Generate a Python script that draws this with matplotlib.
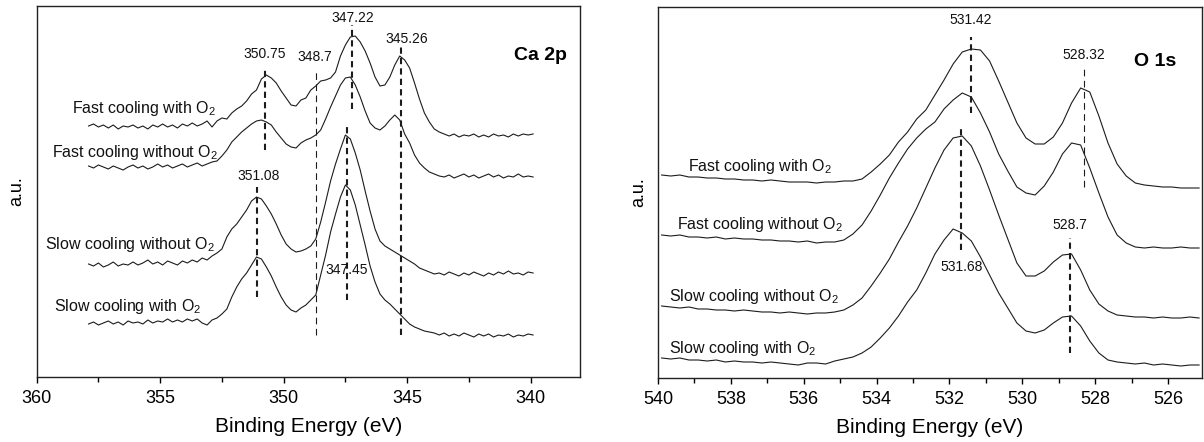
import numpy as np
import matplotlib
matplotlib.use("Agg")
import matplotlib.pyplot as plt
from matplotlib.ticker import MultipleLocator

plt.rcParams['font.family'] = ['Liberation Sans', 'DejaVu Sans']
plt.rcParams['mathtext.fontset'] = 'custom'
plt.rcParams['mathtext.rm'] = 'Liberation Sans'
plt.rcParams['mathtext.default'] = 'regular'

# ---------------- Ca 2p data (binding energy grid 357.9 -> 339.9 eV, step 0.2) ----------------
ca_energy = np.round(np.arange(357.9, 339.85, -0.2), 2)

ca_fast_o2 = [251, 253, 250, 252, 249, 252, 248, 251, 250, 252,
              249, 251, 248, 252, 250, 253, 250, 252, 249, 253,
              251, 254, 251, 253, 256, 250, 256, 259, 258, 264,
              268, 271, 276, 283, 287, 298, 302, 299, 294, 286,
              279, 272, 271, 277, 279, 287, 291, 296, 297, 299,
              305, 321, 332, 340, 341, 335, 326, 314, 300, 291,
              292, 300, 312, 321, 317, 309, 294, 278, 264, 255,
              248, 245, 243, 241, 243, 240, 242, 241, 243, 240,
              242, 240, 243, 241, 242, 240, 243, 241, 243, 242,
              243]
ca_fast_no_o2 = [211, 209, 212, 210, 208, 211, 209, 207, 210, 212,
                 209, 211, 208, 210, 213, 210, 212, 209, 211, 213,
                 210, 212, 214, 211, 213, 215, 216, 221, 227, 235,
                 240, 245, 249, 253, 256, 257, 255, 252, 245, 239,
                 233, 230, 229, 234, 237, 239, 242, 247, 258, 270,
                 281, 292, 299, 300, 292, 280, 266, 254, 249, 247,
                 251, 257, 262, 257, 243, 234, 222, 214, 209, 205,
                 203, 201, 200, 202, 199, 201, 203, 200, 202, 199,
                 201, 203, 200, 202, 199, 201, 200, 203, 200, 201,
                 200]
ca_slow_no_o2 = [113, 111, 114, 110, 112, 115, 111, 113, 112, 115,
                 112, 114, 117, 113, 115, 112, 116, 114, 112, 116,
                 114, 117, 115, 119, 117, 121, 124, 128, 140, 148,
                 153, 160, 167, 176, 180, 178, 171, 163, 153, 142,
                 133, 128, 125, 126, 128, 131, 138, 155, 175, 196,
                 213, 228, 242, 238, 224, 207, 186, 166, 148, 136,
                 131, 128, 125, 122, 119, 116, 113, 109, 107, 105,
                 103, 104, 102, 105, 103, 101, 104, 102, 105, 103,
                 101, 104, 102, 105, 103, 106, 103, 104, 102, 105,
                 104]
ca_slow_o2 = [53, 55, 52, 54, 56, 53, 55, 52, 56, 54,
              55, 53, 57, 54, 56, 55, 58, 55, 57, 55,
              58, 56, 58, 54, 52, 57, 59, 63, 68, 80,
              90, 98, 104, 112, 120, 118, 110, 101, 90, 80,
              72, 67, 65, 69, 72, 77, 82, 102, 122, 145,
              163, 180, 192, 187, 172, 152, 132, 111, 95, 83,
              77, 73, 68, 63, 58, 53, 50, 48, 46, 45,
              44, 42, 44, 41, 43, 41, 44, 42, 40, 43,
              41, 43, 40, 42, 41, 43, 40, 42, 41, 43,
              42]

ca_labels = ['Fast cooling with O$_2$', 'Fast cooling without O$_2$',
             'Slow cooling without O$_2$', 'Slow cooling with O$_2$']
ca_label_x = [358.58, 359.39, 359.66, 359.3]
ca_label_y = [268, 225, 132, 71]

ca_mark_E = [350.75, 348.7, 347.22, 345.26, 351.08, 347.45]
ca_mark_y0 = [227, 42, 268, 42, 80, 77]
ca_mark_y1 = [308, 307, 352, 332, 190, 252]
ca_mark_txt = ['350.75', '348.7', '347.22', '345.26', '351.08', '347.45']
ca_mark_tx = [350.75, 348.75, 347.22, 345.02, 351.0, 347.45]
ca_mark_ty = [323, 320, 359, 338, 201, 107]
ca_mark_thick = [True, False, True, True, True, True]

# ---------------- O 1s data (binding energy grid 539.9 -> 525.15 eV, step 0.25) ----------------
o_energy = np.round(np.arange(539.9, 525.1, -0.25), 2)

o_fast_o2 = [203, 202, 203, 201, 201, 200, 200, 199, 199, 198,
             198, 197, 198, 197, 196, 196, 196, 195, 196, 196,
             197, 197, 199, 206, 214, 223, 236, 246, 259, 268,
             283, 298, 314, 326, 329, 328, 317, 297, 276, 255,
             240, 234, 234, 241, 255, 275, 290, 286, 262, 235,
             214, 202, 195, 193, 192, 191, 191, 190, 190, 190]
o_fast_no_o2 = [143, 142, 143, 141, 141, 140, 141, 139, 140, 139,
                139, 138, 138, 137, 137, 136, 137, 135, 136, 136,
                138, 144, 153, 167, 183, 200, 215, 229, 240, 249,
                256, 269, 278, 285, 281, 265, 246, 224, 207, 191,
                185, 183, 192, 206, 224, 235, 233, 210, 185, 161,
                143, 135, 131, 130, 131, 130, 130, 131, 130, 130]
o_slow_no_o2 = [72, 71, 70, 71, 69, 69, 68, 68, 67, 68,
                67, 66, 66, 65, 66, 65, 64, 65, 65, 66,
                68, 73, 80, 92, 105, 119, 136, 152, 170, 190,
                210, 228, 240, 242, 232, 212, 188, 163, 139, 115,
                102, 102, 107, 116, 123, 124, 108, 88, 74, 67,
                63, 62, 61, 61, 60, 61, 60, 60, 61, 60]
o_slow_o2 = [20, 19, 20, 18, 18, 17, 18, 16, 17, 16,
             16, 15, 16, 15, 14, 13, 15, 15, 14, 17,
             19, 21, 25, 31, 40, 50, 62, 76, 88, 105,
             124, 138, 149, 145, 137, 121, 103, 85, 70, 55,
             47, 45, 48, 55, 61, 62, 52, 37, 25, 18,
             16, 15, 14, 15, 13, 14, 13, 12, 13, 13]

o_labels = ca_labels
o_label_x = [539.17, 539.49, 539.69, 539.69]
o_label_y = [211, 154, 81, 29]

o_mark_E = [531.42, 528.32, 531.68, 528.7]
o_mark_y0 = [265, 191, 128, 25]
o_mark_y1 = [341, 310, 253, 140]
o_mark_txt = ['531.42', '528.32', '531.68', '528.7']
o_mark_tx = [531.42, 528.32, 531.66, 528.7]
o_mark_ty = [358, 323, 111, 153]
o_mark_thick = [True, False, True, True]

fig = plt.figure(figsize=(12.04, 4.42), dpi=100)
ax1 = fig.add_axes([36.7 / 1204, 65 / 442, 543.3 / 1204, 371 / 442])
ax2 = fig.add_axes([658 / 1204, 64 / 442, 544 / 1204, 371 / 442])

lc = '#1c1c1c'


def draw(ax, energy, series, labels, lx, ly, mE, my0, my1, mtxt, mtx, mty, mthick, title, tx, ty):
    for I in series:
        ax.plot(energy, I, color=lc, lw=0.8)
    for t, x, y in zip(labels, lx, ly):
        ax.text(x, y, t, fontsize=11.5, ha='left', va='center', color='#111111')
    for e, y0, y1, th in zip(mE, my0, my1, mthick):
        if th:
            ax.plot([e, e], [y0, y1], color=lc, lw=1.5, ls=(0, (3, 2)))
        else:
            ax.plot([e, e], [y0, y1], color=lc, lw=0.8, ls=(0, (6, 4)))
    for t, x, y in zip(mtxt, mtx, mty):
        ax.text(x, y, t, fontsize=10, ha='center', va='center', color='#111111')
    ax.text(tx, ty, title, fontsize=14, fontweight='bold', ha='center', va='center')
    ax.set_yticks([])
    ax.set_ylabel('a.u.', fontsize=13, labelpad=8)
    ax.set_xlabel('Binding Energy (eV)', fontsize=15, labelpad=7)
    ax.tick_params(axis='x', which='major', direction='out', length=4.5, width=1, labelsize=13, pad=5)
    ax.tick_params(axis='x', which='minor', direction='out', length=3.5, width=1)
    for s in ax.spines.values():
        s.set_linewidth(1.0)
        s.set_color('#222222')


draw(ax1, ca_energy, [ca_fast_o2, ca_fast_no_o2, ca_slow_no_o2, ca_slow_o2],
     ca_labels, ca_label_x, ca_label_y,
     ca_mark_E, ca_mark_y0, ca_mark_y1, ca_mark_txt, ca_mark_tx, ca_mark_ty, ca_mark_thick,
     'Ca 2p', 339.6, 322)
ax1.set_xlim(360, 338)
ax1.set_ylim(0, 371)
ax1.xaxis.set_major_locator(MultipleLocator(5))
ax1.xaxis.set_minor_locator(MultipleLocator(2.5))

draw(ax2, o_energy, [o_fast_o2, o_fast_no_o2, o_slow_no_o2, o_slow_o2],
     o_labels, o_label_x, o_label_y,
     o_mark_E, o_mark_y0, o_mark_y1, o_mark_txt, o_mark_tx, o_mark_ty, o_mark_thick,
     'O 1s', 526.35, 316)
ax2.set_xlim(540, 525.07)
ax2.set_ylim(0, 371)
ax2.xaxis.set_major_locator(MultipleLocator(2))
ax2.xaxis.set_minor_locator(MultipleLocator(1))

fig.savefig('out.png', dpi=100)
